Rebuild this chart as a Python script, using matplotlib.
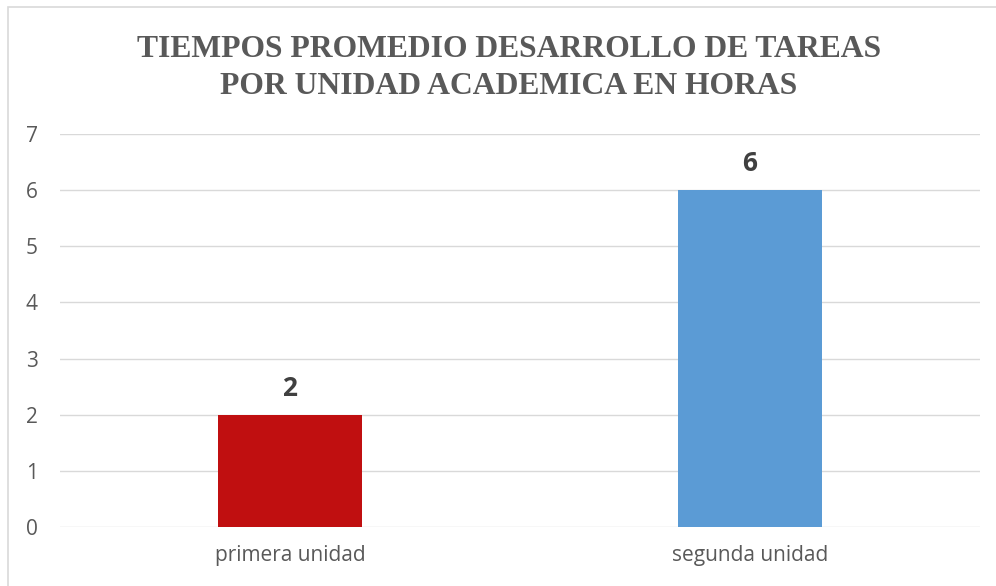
import matplotlib.pyplot as plt
from matplotlib.patches import Rectangle

# data
categories = ['primera unidad', 'segunda unidad']
values = [2, 6]
colors = ['#c00f10', '#5b9bd5']
title_lines = ['TIEMPOS PROMEDIO DESARROLLO DE TAREAS',
               'POR UNIDAD ACADEMICA EN HORAS']

fig = plt.figure(figsize=(9.96, 5.86), dpi=100)
ax = fig.add_axes([0.0602, 0.1007, 0.9236, 0.6706])

# outer chart border (only left/top visible in the image)
fig.patches.append(Rectangle((0.008, -0.1), 1.2, 1.088, transform=fig.transFigure,
                             fill=False, edgecolor='#d9d9d9', linewidth=1.2))

x = range(len(categories))
ax.bar(x, values, width=0.313, color=colors, zorder=3)

for xi, v in zip(x, values):
    ax.text(xi, v + 0.34, str(v), ha='center', va='baseline', fontsize=19,
            fontweight='bold', color='#404040', family='Open Sans')

ax.set_xlim(-0.5, 1.5)
ax.set_ylim(0, 7)
ax.set_yticks(range(0, 8))
ax.set_xticks(list(x))
ax.set_xticklabels(categories)
ax.grid(axis='y', color='#d9d9d9', linewidth=1, zorder=0)
for s in ax.spines.values():
    s.set_visible(False)
ax.tick_params(axis='both', length=0, colors='#595959', labelsize=15)
ax.tick_params(axis='x', pad=13)
ax.tick_params(axis='y', pad=16)
for lbl in ax.get_xticklabels() + ax.get_yticklabels():
    lbl.set_family('Open Sans')

# title, two lines
fig.text(0.511, 1 - 57 / 586, title_lines[0], ha='center', va='baseline', fontsize=22.8,
         fontweight='bold', color='#595959', family='Liberation Serif')
fig.text(0.511, 1 - 94 / 586, title_lines[1], ha='center', va='baseline', fontsize=22.8,
         fontweight='bold', color='#595959', family='Liberation Serif')

fig.savefig('out.png', dpi=100)
